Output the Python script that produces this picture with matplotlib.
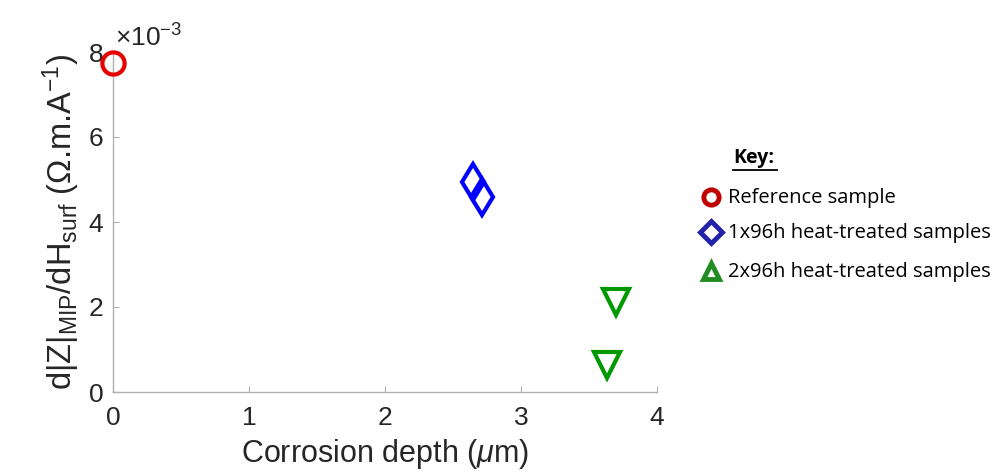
import matplotlib
matplotlib.use("Agg")
import matplotlib.pyplot as plt
from matplotlib.lines import Line2D
import numpy as np

plt.rcParams['font.family'] = ['Liberation Sans', 'DejaVu Sans']
plt.rcParams['mathtext.fontset'] = 'custom'
plt.rcParams['mathtext.rm'] = 'Liberation Sans'
plt.rcParams['mathtext.it'] = 'Liberation Sans:italic'

# Data
ref_x = [0.0]
ref_y = [7.74e-3]
ht1_x = [2.65, 2.71]
ht1_y = [4.94e-3, 4.59e-3]
ht2_x = [3.70, 3.63]
ht2_y = [2.12e-3, 0.64e-3]

legend_labels = ["Reference sample", "1x96h heat-treated samples", "2x96h heat-treated samples"]
xticks = [0, 1, 2, 3, 4]
yticks = [0, 2e-3, 4e-3, 6e-3, 8e-3]

fig = plt.figure(figsize=(9.97, 4.75), dpi=100)
ax = fig.add_axes([113/997, 1-392/475, 544/997, 340/475])

ax.plot(ref_x, ref_y, linestyle='none', marker='o', markersize=16, markerfacecolor='none',
        markeredgecolor='#E60000', markeredgewidth=3, clip_on=False, zorder=5)
ax.plot(ht1_x, ht1_y, linestyle='none', marker='d', markersize=18, markerfacecolor='none',
        markeredgecolor='#0000FF', markeredgewidth=3, clip_on=False, zorder=5)
ax.plot(ht2_x, ht2_y, linestyle='none', marker='v', markersize=19, markerfacecolor='none',
        markeredgecolor='#009900', markeredgewidth=3, clip_on=False, zorder=5)

ax.set_xlim(0, 4)
ax.set_ylim(0, 8e-3)
ax.set_xticks(xticks)
ax.set_yticks(yticks)
ax.set_xticklabels([str(t) for t in xticks])
ax.set_yticklabels(['0', '2', '4', '6', '8'])
for s in ['top', 'right']:
    ax.spines[s].set_visible(False)
for s in ['left', 'bottom']:
    ax.spines[s].set_color('#b0b0b0')
    ax.spines[s].set_linewidth(1.0)
ax.tick_params(direction='in', length=4, color='#b0b0b0', labelsize=19, labelcolor='#262626', pad=7)
ax.tick_params(axis='x', pad=10)

ax.set_xlabel(r'Corrosion depth ($\mu$m)', fontsize=22, color='#262626', labelpad=5)
ax.set_ylabel(r'd|Z|$_{\mathrm{MIP}}$/dH$_{\mathrm{surf}}$ ($\Omega$.m.A$^{-1}$)', fontsize=23.5,
              color='#262626', labelpad=5)
fig.text(115/997, 1-38/475, r'$\times$10$^{\mathrm{-3}}$', fontsize=19, color='#262626', va='center', ha='left')

# Key / legend
lf = ['Open Sans', 'DejaVu Sans']
fig.text(733/997, 1-158/475, 'Key:', fontsize=14, fontweight='bold', family=lf, va='center', ha='left')
fig.add_artist(Line2D([733/997, 777/997], [1-170/475, 1-170/475], color='black', lw=1.3))
mk = [('o', '#C00000', 11), ('D', '#2222AA', 11), ('^', '#228B22', 12)]
ys = [197, 232, 271]
for (m, c, s), y, lab in zip(mk, ys, legend_labels):
    fig.add_artist(Line2D([711/997], [1-y/475], marker=m, markersize=s, markerfacecolor='none',
                          markeredgecolor=c, markeredgewidth=3.5, linestyle='none'))
    fig.text(728/997, 1-(y+1)/475, lab, fontsize=14.5, family=lf, va='center', ha='left')

fig.savefig('out.png', dpi=100)
